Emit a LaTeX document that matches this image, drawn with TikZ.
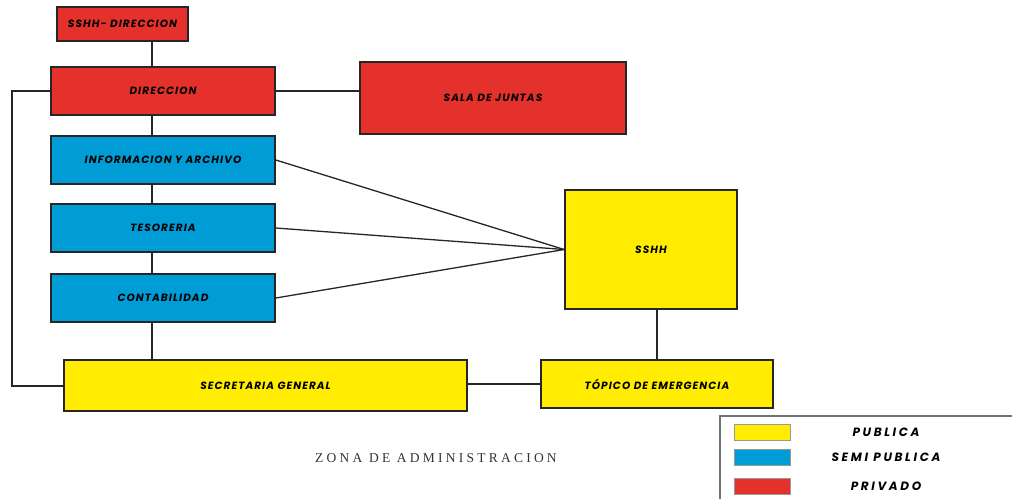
\documentclass[tikz,border=0pt]{standalone}
\usepackage{fontspec}
\usepackage{xcolor}
\usepackage{tikz}
\newfontfamily\areaFont{Poppins}[LetterSpace=10]
\newfontfamily\legendFont{Poppins}[LetterSpace=22]
\newfontfamily\zonaFont{Liberation Serif}[LetterSpace=24]
\definecolor{privado}{RGB}{228,49,43}
\definecolor{semiPublica}{RGB}{0,156,214}
\definecolor{publica}{RGB}{255,236,0}
\colorlet{lineColor}{black!85}

\begin{document}
\begin{tikzpicture}[
  x=1pt, y=-1pt,
  every area/.style={
    draw=lineColor,
    line width=1.6pt,
    rectangle,
    inner sep=0pt,
    font=\areaFont\fontsize{10.5}{11}\selectfont\itshape\bfseries,
  },
  privado area/.style={every area, fill=privado},
  semi area/.style={every area, fill=semiPublica},
  publica area/.style={every area, fill=publica},
  link/.style={draw=lineColor, line width=1.5pt},
  swatch/.style={draw=black!40, line width=0.5pt, minimum width=56pt, minimum height=16pt, inner sep=0pt}
]
\useasboundingbox (0,0) rectangle (1012,499);

% areas
\node[privado area, minimum width=131pt, minimum height=34pt] (dirSSHH) at (122.5,24) {SSHH- DIRECCION};
\node[privado area, minimum width=224pt, minimum height=48pt] (direccion) at (163,91) {DIRECCION};
\node[privado area, minimum width=266pt, minimum height=72pt] (sala) at (493,98) {SALA DE JUNTAS};
\node[semi area, minimum width=224pt, minimum height=48pt] (info) at (163,160) {INFORMACION Y ARCHIVO};
\node[semi area, minimum width=224pt, minimum height=48pt] (tesoreria) at (163,228) {TESORERIA};
\node[semi area, minimum width=224pt, minimum height=48pt] (contabilidad) at (163,298) {CONTABILIDAD};
\node[publica area, minimum width=403pt, minimum height=51pt] (secretaria) at (265.5,385.5) {SECRETARIA GENERAL};
\node[publica area, minimum width=172pt, minimum height=119pt] (sshh) at (651,249.5) {SSHH};
\node[publica area, minimum width=232pt, minimum height=48pt] (topico) at (657,384) {TÓPICO DE EMERGENCIA};

% connections
\coordinate (spine) at (152,0);
\foreach \a/\b in {dirSSHH/direccion,direccion/info,info/tesoreria,tesoreria/contabilidad,contabilidad/secretaria}
  \draw[link] (\a.south -| spine) -- (\b.north -| spine);
\coordinate (busTop) at (12,91);
\coordinate (busBot) at (12,386);
\draw[link] (direccion.west) -- (busTop) -- (busBot) -- (busBot -| secretaria.west);
\draw[link] (direccion.east) -- (direccion.east -| sala.west);
\foreach \n in {info,tesoreria,contabilidad}
  \draw[link, line width=1.3pt] (\n.east) -- (sshh.west);
\draw[link] (sshh.south -| topico.north) -- (topico.north);
\draw[link] (secretaria.east |- topico.west) -- (topico.west);

\node[font=\zonaFont\fontsize{13.5}{14}\selectfont, text=black!80] (zona) at (436,458) {ZONA DE ADMINISTRACION};

% legend
\coordinate (legBot) at (720,499);
\coordinate (legCorner) at (720,416);
\coordinate (legRight) at (1012,416);
\draw[draw=black!55, line width=1.2pt] (legBot) -- (legCorner) -- (legRight);
\foreach \c/\t/\y/\name in {publica/PUBLICA/432/lgPublica,semiPublica/SEMI PUBLICA/457.5/lgSemi,privado/PRIVADO/486/lgPrivado} {
  \node[swatch, fill=\c] (\name Box) at (762,\y) {};
  \node[font=\legendFont\fontsize{12}{13}\selectfont\itshape\bfseries] (\name) at (886,\y) {\t};
}
\end{tikzpicture}
\end{document}
